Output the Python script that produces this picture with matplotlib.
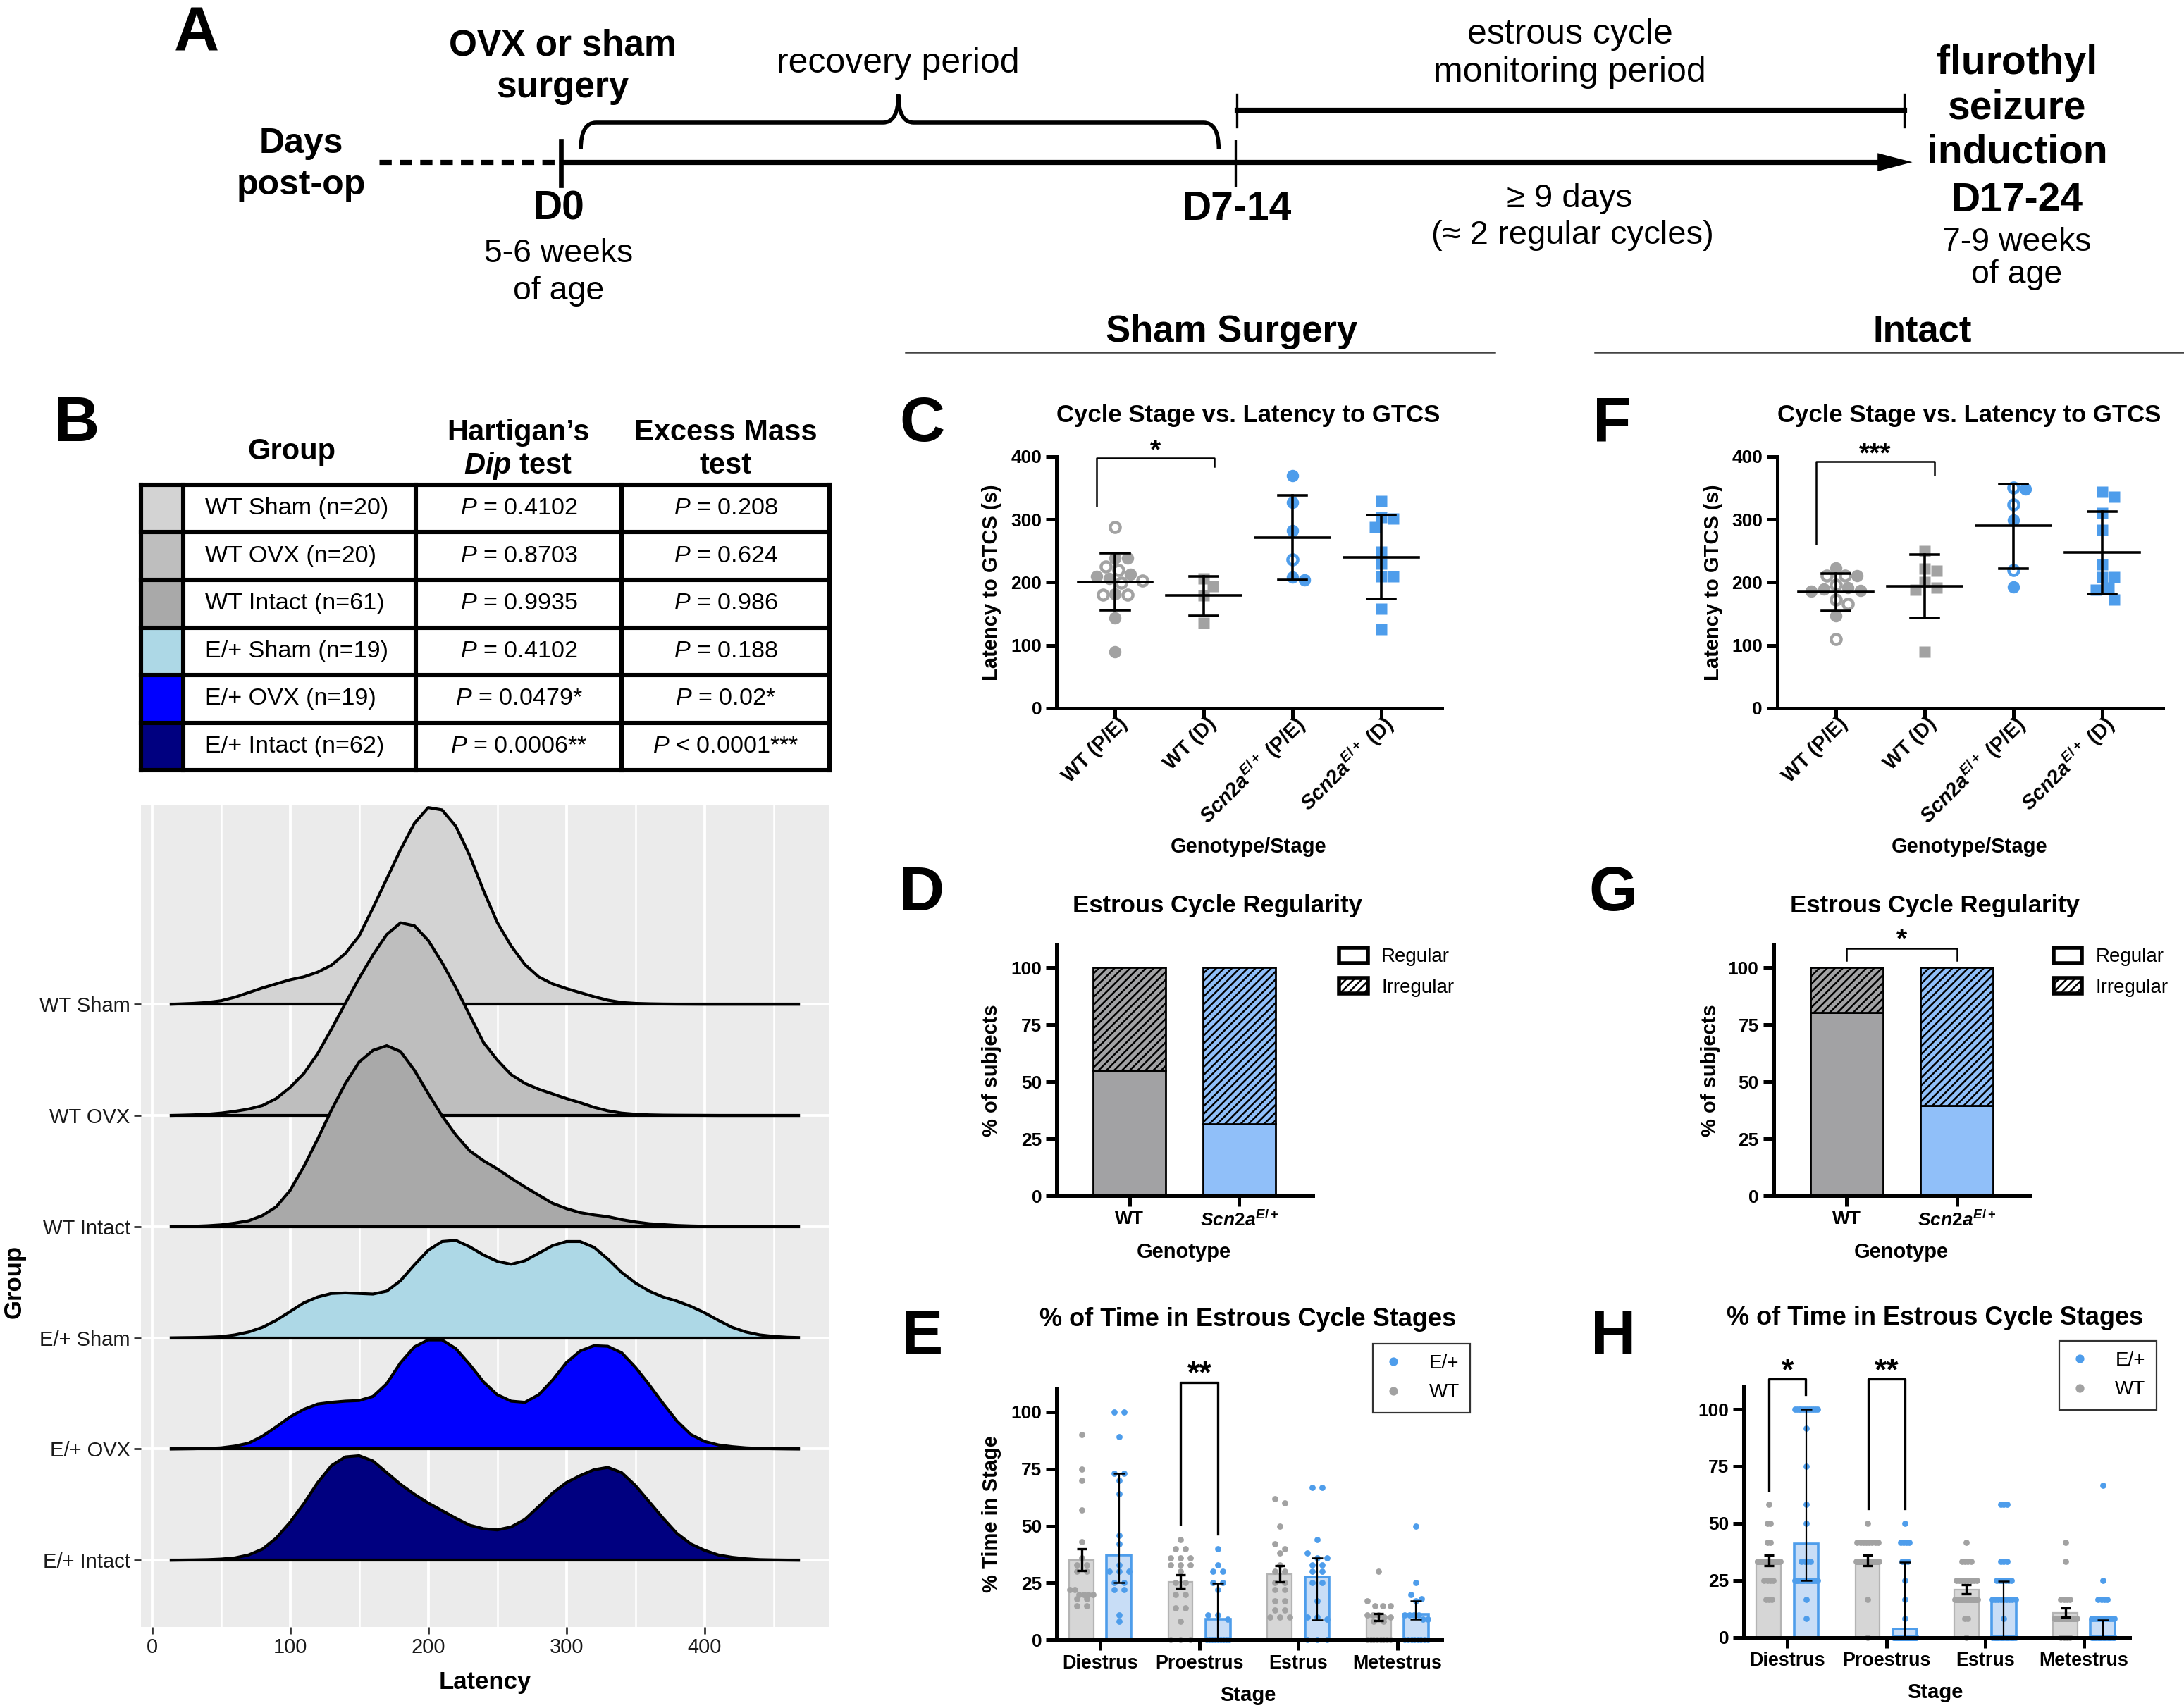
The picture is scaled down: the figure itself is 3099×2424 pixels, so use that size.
import numpy as np
import matplotlib
matplotlib.use("Agg")
import matplotlib.pyplot as plt
from matplotlib.patches import Rectangle, Patch, PathPatch
from matplotlib.path import Path
from matplotlib.lines import Line2D
from matplotlib.transforms import offset_copy, ScaledTranslation

plt.rcParams.update({
    "font.family": ["Liberation Sans", "DejaVu Sans"],
    "mathtext.fontset": "custom",
    "mathtext.rm": "Liberation Sans:bold",
    "mathtext.bf": "Liberation Sans:bold",
    "mathtext.it": "Liberation Sans:italic:bold",
    "mathtext.sf": "Liberation Sans:italic",
    "hatch.linewidth": 0.9,
})

# ---------------- data ----------------
# B: table
table_groups = ["WT Sham (n=20)", "WT OVX (n=20)", "WT Intact (n=61)",
                "E/+ Sham (n=19)", "E/+ OVX (n=19)", "E/+ Intact (n=62)"]
group_colors = ["#D3D3D3", "#BEBEBE", "#A9A9A9", "#ADD8E6", "#0000FF", "#000080"]
dip_p = ["= 0.4102", "= 0.8703", "= 0.9935", "= 0.4102", "= 0.0479*", "= 0.0006**"]
excess_p = ["= 0.208", "= 0.624", "= 0.986", "= 0.188", "= 0.02*", "< 0.0001***"]

# B: ridge heights (190.5 units = one row)
ridge_names = ["WT Sham", "WT OVX", "WT Intact", "E/+ Sham", "E/+ OVX", "E/+ Intact"]
ridge_x = [14, 20, 30, 40, 50, 60, 70, 80, 90, 100, 110, 120, 130, 140, 150, 160,
           170, 180, 190, 200, 210, 220, 230, 240, 250, 260, 270, 280, 290, 300,
           310, 320, 330, 340, 350, 360, 370, 380, 390, 400, 410, 420, 430, 440,
           450, 460, 468]
ridge_wt_sham = [0, 0.5, 1.5, 3, 6, 12, 20, 28, 35, 42, 47, 55, 67, 87, 117, 165,
                 215, 265, 310, 337, 333, 305, 255, 195, 140, 100, 68, 47, 35, 27,
                 20, 13, 7, 3, 1.5, 0.8, 0.4, 0.2, 0.1, 0, 0, 0, 0, 0, 0, 0, 0]
ridge_wt_ovx = [0, 0.3, 1, 2, 4, 7, 11, 17, 29, 48, 72, 106, 148, 192, 235, 275,
                310, 330, 325, 300, 262, 219, 172, 125, 95, 70, 55, 45, 37, 29,
                22, 14, 8, 4, 2, 1, 0.5, 0.3, 0.2, 0.1, 0, 0, 0, 0, 0, 0, 0]
ridge_wt_intact = [0, 0.2, 0.6, 1.5, 3, 6, 10, 19, 34, 62, 103, 150, 200, 245, 282, 302,
                   310, 300, 268, 228, 190, 157, 130, 113, 99, 83, 68, 54, 40, 31,
                   24, 20, 17, 12, 8, 5, 3.5, 2, 1.2, 0.7, 0.4, 0.2, 0.1, 0, 0, 0, 0]
ridge_het_sham = [0, 0.2, 0.5, 1, 2, 5, 10, 18, 30, 45, 60, 70, 76, 77, 76, 75,
                  80, 98, 125, 150, 165, 167, 156, 142, 131, 126, 132, 145, 158, 165,
                  165, 155, 135, 112, 94, 80, 70, 63, 54, 43, 30, 18, 10, 5, 2.5, 1, 0.5]
ridge_het_ovx = [0, 0.2, 0.5, 1, 2, 5, 10, 22, 38, 55, 68, 77, 80, 82, 83, 90,
                 112, 148, 175, 187, 187, 172, 145, 115, 93, 82, 80, 93, 118, 148,
                 168, 177, 176, 165, 140, 110, 78, 48, 25, 13, 7, 4, 2, 1, 0.5, 0.2, 0]
ridge_het_intact = [0, 0.2, 0.5, 1, 2, 4, 9, 19, 38, 65, 97, 133, 162, 177, 179, 170,
                    150, 130, 113, 98, 85, 72, 60, 54, 52, 57, 70, 92, 115, 133,
                    145, 155, 159, 150, 128, 100, 72, 46, 28, 17, 9, 5, 2.5, 1, 0.5, 0.2, 0]
ridge_series = [ridge_wt_sham, ridge_wt_ovx, ridge_wt_intact,
                ridge_het_sham, ridge_het_ovx, ridge_het_intact]

# C / F: latency to GTCS (s); True = open symbol
lat_groups = ["WT (P/E)", "WT (D)", r"$\mathit{Scn2a}^{\mathit{E/+}}$ (P/E)",
              r"$\mathit{Scn2a}^{\mathit{E/+}}$ (D)"]
c_vals = [[288, 239, 239, 225, 220, 213, 210, 206, 203, 199, 182, 180, 180, 143, 90],
          [206, 194, 179, 136],
          [370, 327, 282, 236, 208, 204],
          [329, 304, 301, 288, 249, 230, 209, 209, 158, 126]]
c_open = [[True, False, False, True, True, False, False, False, True, True, False, True, True, False, False],
          [False] * 4,
          [False, False, False, True, False, False],
          [False] * 10]
c_mean = [201, 179, 271, 240]
c_sd_lo = [156, 147, 204, 174]
c_sd_hi = [246, 209, 338, 307]

f_vals = [[223, 211, 211, 211, 196, 192, 189, 187, 186, 173, 166, 147, 110],
          [250, 222, 218, 201, 191, 188, 90],
          [351, 348, 324, 299, 219, 193],
          [344, 336, 310, 283, 229, 208, 208, 191, 188, 173]]
f_open = [[False, True, True, False, True, False, False, False, False, True, True, False, True],
          [False] * 7,
          [True, False, True, False, True, False],
          [False] * 10]
f_mean = [185, 194, 290, 247]
f_sd_lo = [155, 143, 222, 182]
f_sd_hi = [214, 244, 356, 313]

# D / G: % regular subjects
reg_genotypes = ["WT", r"$\mathit{Scn2a}^{\mathit{E/+}}$"]
d_regular = [55, 31.7]
g_regular = [80.5, 39.7]

# E / H: % of time in stages
stages = ["Diestrus", "Proestrus", "Estrus", "Metestrus"]
e_wt_mean = [35, 25.5, 29, 10]
e_wt_lo = [30.3, 22.8, 25.5, 8.5]
e_wt_hi = [39.9, 28.5, 32.7, 11.4]
e_het_mean = [37.2, 9.1, 27.5, 11.1]
e_het_lo = [25, 0, 8.7, 9]
e_het_hi = [73, 24.9, 35.9, 17.1]
e_wt_pts = [[90, 75, 70, 57, 43, 36, 33, 33, 30, 30, 22, 22, 20, 20, 20, 20, 18, 18, 15, 15],
            [44, 40, 40, 36, 36, 36, 33, 33, 33, 30, 25, 25, 20, 20, 14, 14, 8, 0, 0, 0],
            [62, 60, 50, 42, 40, 38, 33, 30, 30, 25, 25, 22, 22, 17, 17, 13, 13, 10, 10, 10],
            [30, 17, 15, 15, 15, 11, 11, 11, 10, 10, 8, 8, 0, 0, 0, 0, 0, 0, 0, 0]]
e_het_pts = [[100, 100, 89, 73, 73, 70, 64, 46, 42, 33, 30, 30, 30, 25, 25, 22, 22, 11, 8],
             [40, 33, 30, 30, 25, 25, 22, 11, 11, 9, 0, 0, 0, 0, 0, 0, 0, 0, 0],
             [67, 67, 44, 38, 36, 36, 33, 33, 30, 30, 25, 25, 17, 10, 10, 9, 0, 0, 0],
             [50, 25, 20, 18, 17, 11, 11, 11, 11, 9, 9, 0, 0, 0, 0, 0, 0, 0, 0]]

h_wt_mean = [33.5, 33.5, 21, 10.8]
h_wt_lo = [31.5, 31.5, 18.9, 8.7]
h_wt_hi = [36, 36, 23.1, 12.9]
h_het_mean = [41.1, 3.6, 16.5, 7.5]
h_het_lo = [25, 0, 0, 0]
h_het_hi = [100, 32.9, 24.7, 7.5]
h_wt_levels = [[58.3, 50, 41.7, 33.3, 25, 16.7],
               [50, 41.7, 33.3, 16.7, 0],
               [41.7, 33.3, 25, 16.7, 8.3, 0],
               [41.7, 33.3, 16.7, 8.3, 0]]
h_wt_counts = [[1, 2, 2, 40, 4, 3],
               [1, 8, 40, 1, 1],
               [1, 4, 8, 20, 2, 1],
               [1, 1, 4, 20, 4]]
h_het_levels = [[100, 91.7, 75, 58.3, 50, 33.3, 25, 16.7, 8.3],
                [50, 41.7, 33.3, 25, 16.7, 8.3, 0],
                [58.3, 33.3, 25, 16.7, 8.3, 0],
                [66.7, 25, 16.7, 8.3, 0]]
h_het_counts = [[12, 1, 1, 1, 1, 4, 15, 1, 1],
                [1, 4, 3, 1, 1, 1, 30],
                [3, 3, 6, 9, 1, 15],
                [1, 1, 4, 12, 15]]

GRAY = "#A2A2A2"
BLUE = "#4E9DEB"
DOT = 10

# ---------------- layout helpers ----------------
W, H = 1568.0, 1226.0


def rect(x0, y0, x1, y1):
    return [x0 / W, 1 - y1 / H, (x1 - x0) / W, (y1 - y0) / H]


fig = plt.figure(figsize=(15.495, 12.12), dpi=200)
ax0 = fig.add_axes([0, 0, 1, 1])
ax0.set_xlim(0, W)
ax0.set_ylim(H, 0)
ax0.axis("off")


def txt(x, y, s, size, weight="normal", **kw):
    ax0.text(x, y, s, fontsize=size, fontweight=weight, ha="center", va="center", **kw)


# ---------------- A: timeline ----------------
ty = 116.4
ax0.plot([272, 400], [ty, ty], color="black", lw=2.6, dashes=(2.4, 1.6))
ax0.plot([403, 1352], [ty, ty], color="black", lw=2.6, solid_capstyle="butt")
ax0.fill([1348, 1373, 1348], [ty - 6.5, ty, ty + 6.5], color="black", lw=0)
ax0.plot([403, 403], [101, 133], color="black", lw=2.4)
ax0.plot([887, 887], [101, 133], color="black", lw=1.2)
brace = Path([(417, 107), (417, 88), (428, 88), (634, 88), (645, 88), (645, 68),
              (645, 88), (656, 88), (864, 88), (875, 88), (875, 107)],
             [Path.MOVETO, Path.CURVE3, Path.CURVE3, Path.LINETO, Path.CURVE3, Path.CURVE3,
              Path.CURVE3, Path.CURVE3, Path.LINETO, Path.CURVE3, Path.CURVE3])
ax0.add_patch(PathPatch(brace, fill=False, lw=2.0, color="black"))
ax0.plot([888, 1367], [79, 79], color="black", lw=2.6)
ax0.plot([888, 888], [68, 91], color="black", lw=1.2)
ax0.plot([1367, 1367], [68, 91], color="black", lw=1.2)

txt(141, 25, "A", 32, "bold")
txt(404, 33, "OVX or sham", 18.5, "bold")
txt(404, 63, "surgery", 18.5, "bold")
txt(645, 45.5, "recovery period", 18)
txt(1127, 25, "estrous cycle", 18)
txt(1127, 52, "monitoring period", 18)
for yy, s in zip([45.5, 77.6, 109.7, 144.2], ["flurothyl", "seizure", "induction", "D17-24"]):
    txt(1448, yy, s, 20.5, "bold")
txt(1448, 173.8, "7-9 weeks", 16.7)
txt(1448, 197.4, "of age", 16.7)
txt(216, 103, "Days", 18, "bold")
txt(216, 133, "post-op", 18, "bold")
txt(401, 150, "D0", 20.5, "bold")
txt(401, 182, "5-6 weeks", 16.7)
txt(401, 209, "of age", 16.7)
txt(888, 150, "D7-14", 20.5, "bold")
txt(1127, 142.6, "\u2265 9 days", 17)
txt(1129, 168.7, "(\u2248 2 regular cycles)", 17)

# section headers
txt(884, 238, "Sham Surgery", 19, "bold")
ax0.plot([650, 1073], [253, 253], color="#444444", lw=0.9)
txt(1380, 238, "Intact", 19, "bold")
ax0.plot([1145, 1568], [253, 253], color="#444444", lw=0.9)

# panel letters
for s, x, y in [("B", 55, 305), ("C", 662, 305), ("F", 1157, 305), ("D", 662, 642),
                ("G", 1158, 642), ("E", 662, 960), ("H", 1158, 960)]:
    txt(x, y, s, 32, "bold")

# ---------------- B: table ----------------
axT = fig.add_axes(rect(101, 347.8, 595.7, 553))
axT.set_xlim(0, 1)
axT.set_ylim(6, 0)
axT.axis("off")
col_edges = [0, 0.0617, 0.399, 0.698, 1]
for i, (g, c, p1, p2) in enumerate(zip(table_groups, group_colors, dip_p, excess_p)):
    axT.add_patch(Rectangle((0, i), col_edges[1], 1, facecolor=c, edgecolor="none"))
    axT.text(0.0934, i + 0.5, g, fontsize=12.3, ha="left", va="center")
    axT.text(0.5485, i + 0.5, r"$\mathsf{P}$ " + p1, fontsize=12.3, ha="center", va="center")
    axT.text(0.849, i + 0.5, r"$\mathsf{P}$ " + p2, fontsize=12.3, ha="center", va="center")
for r in range(7):
    axT.plot([0, 1], [r, r], color="black", lw=2.2, clip_on=False, solid_capstyle="projecting")
for cx in col_edges:
    axT.plot([cx, cx], [0, 6], color="black", lw=2.2, clip_on=False, solid_capstyle="projecting")
axT.text(0.219, -0.69, "Group", fontsize=15, fontweight="bold", ha="center", va="center")
axT.text(0.548, -1.09, "Hartigan\u2019s", fontsize=15, fontweight="bold", ha="center", va="center")
axT.text(0.548, -0.40, r"$\mathit{Dip}$ test", fontsize=15, fontweight="bold", ha="center", va="center")
axT.text(0.849, -1.09, "Excess Mass", fontsize=15, fontweight="bold", ha="center", va="center")
axT.text(0.849, -0.40, "test", fontsize=15, fontweight="bold", ha="center", va="center")

# ---------------- B: ridgeline ----------------
axB = fig.add_axes(rect(101.2, 578, 595.5, 1167.8))
axB.set_facecolor("#EBEBEB")
axB.set_xlim(-7.9, 490.4)
axB.set_ylim(0.40, 7.79)
for v in [50, 150, 250, 350, 450]:
    axB.axvline(v, color="white", lw=0.9, zorder=0.5)
for v in [0, 100, 200, 300, 400]:
    axB.axvline(v, color="white", lw=1.4, zorder=0.6)
rows = [6, 5, 4, 3, 2, 1]
for r in rows:
    axB.axhline(r, color="white", lw=1.4, zorder=0.6)
for i, (h, c) in enumerate(zip(ridge_series, group_colors)):
    base = rows[i]
    top = base + np.asarray(h) / 190.5
    axB.fill_between(ridge_x, base, top, facecolor=c, edgecolor="none", zorder=2 + i)
    axB.plot(ridge_x, top, color="black", lw=1.5, zorder=2.5 + i)
    axB.plot([ridge_x[0], ridge_x[-1]], [base, base], color="black", lw=1.5, zorder=2.5 + i)
for s in axB.spines.values():
    s.set_visible(False)
axB.set_yticks(rows, labels=ridge_names)
axB.set_xticks([0, 100, 200, 300, 400])
axB.tick_params(length=3.5, width=1.0, color="#333333", labelcolor="#1A1A1A", labelsize=10.5, pad=2)
axB.text(-0.184, 0.42, "Group", rotation=90, fontsize=12.5, fontweight="bold",
         ha="center", va="center", transform=axB.transAxes)
axB.text(0.5, -0.0675, "Latency", fontsize=12.5, fontweight="bold",
         ha="center", va="center", transform=axB.transAxes)


# ---------------- prism style helpers ----------------
def prism_axes(r, xlim, ylim, yticks):
    ax = fig.add_axes(rect(*r))
    ax.set_xlim(*xlim)
    ax.set_ylim(*ylim)
    ax.patch.set_alpha(0)
    for s in ("top", "right"):
        ax.spines[s].set_visible(False)
    for s in ("left", "bottom"):
        ax.spines[s].set_linewidth(1.8)
    ax.set_yticks(yticks, labels=[str(t) for t in yticks], fontweight="bold", fontsize=9.5)
    ax.tick_params(axis="both", length=5.5, width=1.8, pad=2)
    return ax


def star(ax, x, y, s, size):
    tr = offset_copy(ax.transData, fig=fig, y=-0.58 * size, units="points")
    ax.text(x, y, s, fontsize=size, fontweight="bold", ha="center", va="baseline",
            transform=tr, clip_on=False)


def bracket(ax, x0, x1, top, y0, y1, lw=0.9):
    ax.plot([x0, x0, x1, x1], [y0, top, top, y1], color="black", lw=lw, clip_on=False)


def beeswarm(vals, diam, yscale):
    placed = []
    out = np.zeros(len(vals))
    step = diam / 4
    for i, v in enumerate(vals):
        y = v * yscale
        k = 0
        while True:
            cands = [0.0] if k == 0 else [k * step, -k * step]
            ok = None
            for cnd in cands:
                if all((cnd - px) ** 2 + (y - py) ** 2 >= 0.92 * diam ** 2 for px, py in placed):
                    ok = cnd
                    break
            if ok is not None:
                break
            k += 1
        placed.append((ok, y))
        out[i] = ok
    return out


def row_offsets(vals, tol, spacing, max_half):
    vals = np.asarray(vals, float)
    out = np.zeros(len(vals))
    order = np.argsort(-vals, kind="stable")
    rows_ = []
    for i in order:
        if rows_ and abs(vals[rows_[-1][0]] - vals[i]) < tol:
            rows_[-1].append(i)
        else:
            rows_.append([i])
    for rw in rows_:
        n = len(rw)
        half = min(max_half, (n - 1) * spacing / 2)
        offs = np.linspace(-half, half, n) if n > 1 else [0.0]
        for i, o in zip(rw, offs):
            out[i] = o
    return out


# ---------------- C / F: latency ----------------
def latency_panel(r, vals, opens, means, lo, hi, title, sig, ylab_x):
    ax = prism_axes(r, (-0.66, 3.68), (0, 400), [0, 100, 200, 300, 400])
    colors = [GRAY, GRAY, BLUE, BLUE]
    markers = ["o", "s", "o", "s"]
    for g in range(4):
        offs = beeswarm(vals[g], 0.138, 0.00709)
        for v, o, op in zip(vals[g], offs, opens[g]):
            ms = 6.3 if markers[g] == "o" else 5.6
            if op:
                ax.plot(g + o, v, marker=markers[g], ms=ms - 1.2, mfc="white", mec=colors[g],
                        mew=1.6, ls="", zorder=2)
            else:
                ax.plot(g + o, v, marker=markers[g], ms=ms, mfc=colors[g], mec="none",
                        ls="", zorder=2)
        ax.plot([g - 0.42, g + 0.42], [means[g], means[g]], color="black", lw=1.3, zorder=3)
        ax.plot([g, g], [lo[g], hi[g]], color="black", lw=1.3, zorder=3)
        for yv in (lo[g], hi[g]):
            ax.plot([g - 0.16, g + 0.16], [yv, yv], color="black", lw=1.3, zorder=3)
    ax.set_xticks(range(4), labels=lat_groups, rotation=45, ha="right", va="center",
                  rotation_mode="anchor", fontweight="bold", fontsize=10.3)
    shift = ScaledTranslation(4.5 / 72, 1.0 / 72, fig.dpi_scale_trans)
    for lbl in ax.get_xticklabels():
        lbl.set_transform(lbl.get_transform() + shift)
    ax.text(0.498, 1.164, title, fontsize=12.5, fontweight="bold", ha="center", va="center",
            transform=ax.transAxes)
    ax.text(ylab_x, 0.5, "Latency to GTCS (s)", rotation=90, fontsize=10.5, fontweight="bold",
            ha="center", va="center", transform=ax.transAxes)
    ax.text(0.499, -0.552, "Genotype/Stage", fontsize=10.5, fontweight="bold",
            ha="center", va="center", transform=ax.transAxes)
    x0, x1, top, y0, y1, s, ys = sig
    bracket(ax, x0, x1, top, y0, y1)
    star(ax, (x0 + x1) / 2, ys, s, 14)
    return ax


latency_panel((758.6, 327.7, 1035, 508.3), c_vals, c_open, c_mean, c_sd_lo, c_sd_hi,
              "Cycle Stage vs. Latency to GTCS", (-0.21, 1.12, 398, 322, 384, "*", 422), -0.169)
latency_panel((1276, 327.7, 1552.6, 508.3), f_vals, f_open, f_mean, f_sd_lo, f_sd_hi,
              "Cycle Stage vs. Latency to GTCS", (-0.223, 1.11, 392.6, 261, 371, "***", 417), -0.167)


# ---------------- D / G: regularity ----------------
def regularity_panel(r, regular, ylab_x, leg_x, sig=None):
    ax = prism_axes(r, (-0.664, 1.67), (0, 110), [0, 25, 50, 75, 100])
    fills = ["#A2A2A4", "#90BFF9"]
    for g in range(2):
        ax.bar(g, regular[g], width=0.66, color=fills[g], edgecolor="black", lw=1.0, zorder=2)
        ax.bar(g, 100 - regular[g], bottom=regular[g], width=0.66, color=fills[g],
               edgecolor="black", lw=1.0, hatch="//////", zorder=2)
    ax.set_xticks([0, 1], labels=reg_genotypes, fontweight="bold", fontsize=9.5)
    ax.text(0.6275, 1.157, "Estrous Cycle Regularity", fontsize=12.5, fontweight="bold",
            ha="center", va="center", transform=ax.transAxes)
    ax.text(ylab_x, 0.5, "% of subjects", rotation=90, fontsize=10.5, fontweight="bold",
            ha="center", va="center", transform=ax.transAxes)
    ax.text(0.4965, -0.225, "Genotype", fontsize=10.5, fontweight="bold",
            ha="center", va="center", transform=ax.transAxes)
    handles = [Patch(facecolor="white", edgecolor="black", lw=2.0),
               Patch(facecolor="white", edgecolor="black", lw=2.0, hatch="//////")]
    ax.legend(handles, ["Regular", "Irregular"], loc="upper left", bbox_to_anchor=(leg_x, 0.99),
              frameon=False, fontsize=10, handlelength=1.46, handleheight=0.85,
              handletextpad=0.7, labelspacing=0.6, borderpad=0, borderaxespad=0)
    if sig:
        bracket(ax, 0, 1, sig[0], sig[1], sig[1])
        star(ax, 0.5, sig[2], "*", 14)
    return ax


regularity_panel((758.6, 678.3, 942.5, 858.4), d_regular, -0.253, 1.103)
regularity_panel((1273.3, 678.3, 1457.9, 858.4), g_regular, -0.246, 1.089, sig=(108.6, 103.2, 115.8))


# ---------------- E / H: time in stage ----------------
def stage_panel(r, xlim, ylim, wt_mean, wt_lo, wt_hi, het_mean, het_lo, het_hi,
                wt_pts, het_pts, ylabel, brackets, leg_xy):
    ax = prism_axes(r, xlim, ylim, [0, 25, 50, 75, 100])
    off, bw = 0.189, 0.246
    for g in range(4):
        ax.bar(g - off, wt_mean[g], width=bw, color="#D6D6D6", edgecolor="#B4B4B4", lw=0.8, zorder=1)
        ax.bar(g + off, het_mean[g], width=bw, color="#C8DDF6", edgecolor=BLUE, lw=1.3, zorder=1)
        wo = row_offsets(wt_pts[g], 2.5, 0.1, 0.115)
        ho = row_offsets(het_pts[g], 2.5, 0.1, 0.115)
        ax.scatter(g - off + wo, wt_pts[g], s=DOT, color=GRAY, lw=0, zorder=2, clip_on=False)
        ax.scatter(g + off + ho, het_pts[g], s=DOT, color=BLUE, lw=0, zorder=2, clip_on=False)
        ax.errorbar(g - off, wt_mean[g], yerr=[[wt_mean[g] - wt_lo[g]], [wt_hi[g] - wt_mean[g]]],
                    color="black", lw=1.2, capsize=2.6, capthick=1.2, zorder=3)
        ax.errorbar(g + off, het_mean[g], yerr=[[het_mean[g] - het_lo[g]], [het_hi[g] - het_mean[g]]],
                    color="black", lw=0.8, capsize=2.9, capthick=0.9, zorder=3)
    ax.set_xticks(range(4), labels=stages, fontweight="bold", fontsize=9.7)
    ax.text(0.496, 1.271, "% of Time in Estrous Cycle Stages", fontsize=13, fontweight="bold",
            ha="center", va="center", transform=ax.transAxes)
    if ylabel:
        ax.text(-0.168, 0.5, ylabel, rotation=90, fontsize=10.5, fontweight="bold",
                ha="center", va="center", transform=ax.transAxes)
    ax.text(0.496, -0.219, "Stage", fontsize=10.5, fontweight="bold",
            ha="center", va="center", transform=ax.transAxes)
    for x0, x1, top, y0, y1, s in brackets:
        bracket(ax, x0, x1, top, y0, y1, lw=1.2)
        star(ax, (x0 + x1) / 2, 120.7, s, 16)
    handles = [Line2D([], [], marker="o", ls="", color=BLUE, ms=3.4),
               Line2D([], [], marker="o", ls="", color=GRAY, ms=3.4)]
    leg = ax.legend(handles, ["E/+", "WT"], loc="upper left", bbox_to_anchor=leg_xy,
                    frameon=True, fancybox=False, edgecolor="black", fontsize=10,
                    handlelength=1.0, handletextpad=1.3, labelspacing=0.55,
                    borderpad=0.55, borderaxespad=0)
    leg.get_frame().set_linewidth(0.8)
    return ax


stage_panel((758.6, 996.3, 1035.3, 1177.1), (-0.44, 3.45), (0, 110.5),
            e_wt_mean, e_wt_lo, e_wt_hi, e_het_mean, e_het_lo, e_het_hi,
            e_wt_pts, e_het_pts, "% Time in Stage",
            [(0.811, 1.189, 112.9, 50.7, 46.5, "**")], (0.821, 1.176))

h_wt_pts = [list(np.repeat(lv, ct)) for lv, ct in zip(h_wt_levels, h_wt_counts)]
h_het_pts = [list(np.repeat(lv, ct)) for lv, ct in zip(h_het_levels, h_het_counts)]
axH = stage_panel((1251.9, 994.9, 1528.9, 1175.2), (-0.442, 3.46), (0, 110.2),
                  h_wt_mean, h_wt_lo, h_wt_hi, h_het_mean, h_het_lo, h_het_hi,
                  [[]] * 4, [[]] * 4, None,
                  [(-0.187, 0.186, 113.2, 64.4, 106.6, "*"),
                   (0.818, 1.186, 113.2, 56.3, 56.3, "**")], (0.818, 1.18))
# dense quantised points in H: rows spread across the bar width
for g in range(4):
    for pts, sign, col in [(h_wt_pts[g], -1, GRAY), (h_het_pts[g], 1, BLUE)]:
        o = row_offsets(pts, 1.0, 0.03, 0.115)
        axH.scatter(g + sign * 0.189 + o, pts, s=DOT, color=col, lw=0, zorder=2, clip_on=False)

fig.savefig("out.png", dpi=200)
